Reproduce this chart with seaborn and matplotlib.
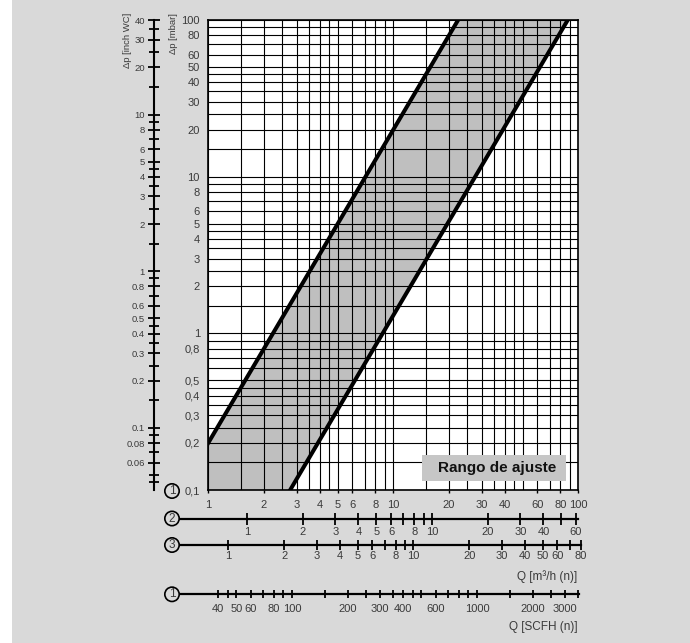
import numpy as np
import pandas as pd
import matplotlib
matplotlib.use('Agg')
import matplotlib.pyplot as plt
import seaborn as sns
from matplotlib.patches import Rectangle
from matplotlib.ticker import FixedLocator, FixedFormatter, NullFormatter, NullLocator

# ---------------- data ----------------
q_upper = [1.0, 22.4]          # m3/h
dp_upper = [0.2, 100.0]        # mbar
q_lower = [2.77, 87.7]
dp_lower = [0.1, 100.0]

grid_mantissa = [1, 1.5, 2, 2.5, 3, 3.5, 4, 4.5, 5, 6, 7, 8, 9]

dp_ticks = [0.1, 0.2, 0.3, 0.4, 0.5, 0.8, 1, 2, 3, 4, 5, 6, 8, 10, 20, 30, 40, 50, 60, 80, 100]
dp_labels = ['0,1', '0,2', '0,3', '0,4', '0,5', '0,8', '1', '2', '3', '4', '5', '6', '8',
             '10', '20', '30', '40', '50', '60', '80', '100']
q_ticks = [1, 2, 3, 4, 5, 6, 8, 10, 20, 30, 40, 60, 80, 100]
q_labels = ['1', '2', '3', '4', '5', '6', '8', '10', '20', '30', '40', '60', '80', '100']

inch_ticks = [0.04, 0.06, 0.08, 0.1, 0.2, 0.3, 0.4, 0.5, 0.6, 0.8, 1, 2, 3, 4, 5, 6, 8, 10, 20, 30, 40]
inch_labels = ['0.04', '0.06', '0.08', '0.1', '0.2', '0.3', '0.4', '0.5', '0.6', '0.8', '1', '2',
               '3', '4', '5', '6', '8', '10', '20', '30', '40']
inch_minor = [0.045, 0.05, 0.07, 0.09, 0.15, 0.25, 0.35, 0.45, 0.7, 0.9, 1.5, 2.5, 3.5, 4.5,
              7, 9, 15, 25, 35]

gas2_ticks = [1, 2, 3, 4, 5, 6, 8, 10, 20, 30, 40, 60]
gas2_minor = [7, 9, 50]
gas3_ticks = [1, 2, 3, 4, 5, 6, 8, 10, 20, 30, 40, 50, 60, 80]
gas3_minor = [7, 9, 70]
scfh_ticks = [40, 50, 60, 80, 100, 200, 300, 400, 600, 1000, 2000, 3000]
scfh_minor = [45, 70, 90, 150, 250, 350, 450, 500, 700, 800, 900, 1500, 2500, 3500]

gas2_factor = 1.62
gas3_factor = 1.285
scfh_factor = 35.31
inch_factor = 2.491

# ---------------- style ----------------
plt.rcParams['font.family'] = ['Liberation Sans', 'DejaVu Sans']
TXT = '#3a3a3a'
BG = '#d9d9d9'

W, H = 690, 643
fig = plt.figure(figsize=(W / 100, H / 100), dpi=100, facecolor='white')
fig.add_artist(Rectangle((12 / W, 0), 1 - 12 / W, 1, transform=fig.transFigure,
                         fc=BG, ec='none', zorder=-10))

L, R, T, B = 208.3, 578.3, 20, 490
ax = fig.add_axes([L / W, 1 - B / H, (R - L) / W, (B - T) / H])
ax.set_facecolor('white')
ax.set_xscale('log')
ax.set_yscale('log')

df = pd.DataFrame({
    'Q': q_upper + q_lower,
    'dp': dp_upper + dp_lower,
    'line': ['upper'] * len(q_upper) + ['lower'] * len(q_lower),
})
sns.lineplot(data=df, x='Q', y='dp', units='line', estimator=None, color='black',
             linewidth=2.9, ax=ax, legend=False, zorder=4)

# shaded adjustment range between both lines
poly_q = [q_upper[0], q_upper[0], q_upper[1], q_lower[1], q_lower[0]]
poly_p = [dp_lower[0], dp_upper[0], dp_upper[1], dp_lower[1], dp_lower[0]]
ax.fill(poly_q, poly_p, color='#bfbfbf', lw=0, zorder=1)

ax.set_xlim(1, 100)
ax.set_ylim(0.1, 100)
ax.set_xlabel('')
ax.set_ylabel('')

decades = [0.01, 0.1, 1, 10]
grid_vals = sorted({round(m * d, 6) for d in decades for m in grid_mantissa})
ax.xaxis.set_major_locator(FixedLocator(q_ticks))
ax.xaxis.set_major_formatter(FixedFormatter(q_labels))
ax.xaxis.set_minor_locator(FixedLocator([v for v in grid_vals if v not in q_ticks]))
ax.xaxis.set_minor_formatter(NullFormatter())
ax.yaxis.set_major_locator(FixedLocator(dp_ticks))
ax.yaxis.set_major_formatter(FixedFormatter(dp_labels))
ax.yaxis.set_minor_locator(FixedLocator([v for v in grid_vals if v not in dp_ticks]))
ax.yaxis.set_minor_formatter(NullFormatter())
ax.grid(which='both', color='black', lw=0.8)
ax.set_axisbelow(False)
ax.tick_params(axis='x', which='major', length=2, width=1, pad=5.5, labelsize=8, labelcolor=TXT)
ax.tick_params(axis='x', which='minor', length=0)
ax.tick_params(axis='y', which='both', length=0, pad=6, labelsize=8, labelcolor=TXT)
for s in ax.spines.values():
    s.set_linewidth(1.2)
    s.set_zorder(5)

# Rango de ajuste label box
ax.add_patch(Rectangle((0.5768, 0.0198), 0.3892, 0.0547, transform=ax.transAxes,
                       fc='#c6c6c6', ec='none', zorder=6))
ax.text(0.7795, 0.0468, 'Rango de ajuste', transform=ax.transAxes, ha='center', va='center',
        fontsize=11, fontweight='bold', color='#111111', zorder=7)

# ---------------- inch WC axis ----------------
axi = fig.add_axes([154 / W, 1 - B / H, 0.0005, (B - T) / H])
axi.set_facecolor('none')
axi.set_yscale('log')
axi.set_ylim(0.1 / inch_factor, 100 / inch_factor)
for k in ['right', 'top', 'bottom']:
    axi.spines[k].set_visible(False)
axi.spines['left'].set_linewidth(1.5)
axi.xaxis.set_major_locator(NullLocator())
axi.xaxis.set_minor_locator(NullLocator())
axi.yaxis.set_major_locator(FixedLocator(inch_ticks))
axi.yaxis.set_major_formatter(FixedFormatter(inch_labels))
axi.yaxis.set_minor_locator(FixedLocator(inch_minor))
axi.yaxis.set_minor_formatter(NullFormatter())
axi.tick_params(axis='y', which='major', direction='inout', length=8, width=1.3, pad=2.5,
                labelsize=6.8, labelcolor=TXT)
axi.tick_params(axis='y', which='minor', direction='inout', length=6.5, width=1.3)

fig.text(127 / W, 1 - 13 / H, 'Δp [inch WC]', rotation=90, ha='center', va='top',
         fontsize=6.8, color=TXT)
fig.text(173.5 / W, 1 - 13 / H, 'Δp [mbar]', rotation=90, ha='center', va='top',
         fontsize=6.8, color=TXT)


# ---------------- secondary flow axes ----------------
def q_at(px):
    return 10 ** ((px - L) / (R - L) * 2)


def flow_axis(y_px, right_px, conv, major, minor, ticklen, pad):
    a = fig.add_axes([180 / W, 1 - y_px / H, (right_px - 180) / W, 0.0001])
    a.set_facecolor('none')
    a.set_xscale('log')
    a.set_xlim(conv(q_at(180)), conv(q_at(right_px)))
    for k in ['left', 'right', 'top']:
        a.spines[k].set_visible(False)
    a.spines['bottom'].set_linewidth(1.6)
    a.yaxis.set_major_locator(NullLocator())
    a.yaxis.set_minor_locator(NullLocator())
    a.xaxis.set_major_locator(FixedLocator(major))
    a.xaxis.set_major_formatter(FixedFormatter([str(v) for v in major]))
    a.xaxis.set_minor_locator(FixedLocator(minor))
    a.xaxis.set_minor_formatter(NullFormatter())
    a.tick_params(axis='x', which='major', direction='inout', length=ticklen, width=1.3, pad=pad,
                  labelsize=8, labelcolor=TXT)
    a.tick_params(axis='x', which='minor', direction='inout', length=ticklen, width=1.3)
    return a


flow_axis(519, 578, lambda q: q / gas2_factor, gas2_ticks, gas2_minor, 8, 1.5)
flow_axis(544.5, 581, lambda q: q / gas3_factor, gas3_ticks, gas3_minor, 7, 1.5)
flow_axis(594.3, 578.5, lambda q: q * scfh_factor, scfh_ticks, scfh_minor, 6, 4)

fig.text(577 / W, 1 - 577 / H, 'Q [m³/h (n)]', ha='right', va='center', fontsize=8.5, color=TXT)
fig.text(578 / W, 1 - 627 / H, 'Q [SCFH (n)]', ha='right', va='center', fontsize=8.5, color=TXT)

# circled gas family markers
for txt, ypx in [('1', 491), ('2', 518.5), ('3', 545), ('1', 594.3)]:
    fig.text(172 / W, 1 - ypx / H, txt, ha='center', va='center', fontsize=8.5, color=TXT,
             bbox=dict(boxstyle='circle,pad=0.1', fc=BG, ec='black', lw=1.2))

fig.savefig('out.png', dpi=100, facecolor=fig.get_facecolor())
